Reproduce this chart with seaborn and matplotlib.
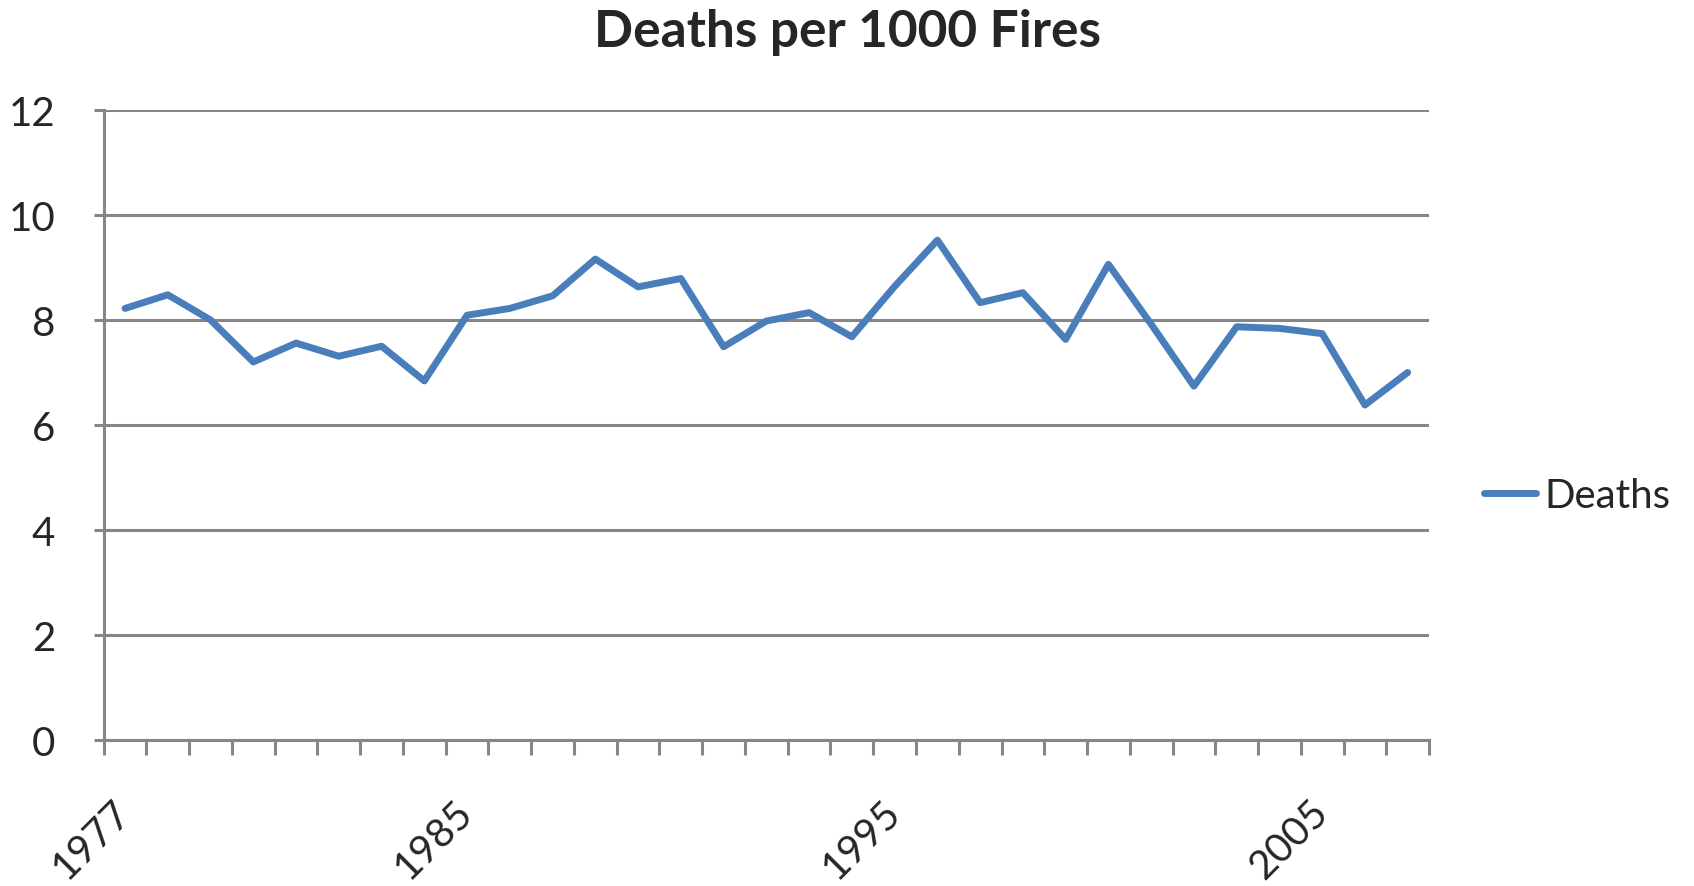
import numpy as np
import pandas as pd
import matplotlib
matplotlib.use("Agg")
import matplotlib.pyplot as plt
import matplotlib.transforms as mtransforms
import seaborn as sns

years = list(range(1977, 2008))
deaths = [8.22, 8.48, 8.00, 7.20, 7.56, 7.31, 7.50, 6.84, 8.09, 8.22,
          8.46, 9.16, 8.63, 8.79, 7.49, 7.98, 8.14, 7.68, 8.64, 9.52,
          8.33, 8.52, 7.63, 9.06, 7.92, 6.74, 7.87, 7.84, 7.74, 6.38,
          7.00]
label_years = [1977, 1985, 1995, 2005]
y_ticks = [0, 2, 4, 6, 8, 10, 12]

df = pd.DataFrame({"Year": years, "Deaths": deaths})

sns.set_style("white")
plt.rcParams['font.family'] = ['Lato', 'DejaVu Sans']

grey = "#868686"
fig = plt.figure(figsize=(16.94, 8.87), dpi=100)
ax = fig.add_axes([0.0612, 0.1646, 0.7824, 0.7103])

sns.lineplot(data=df, x="Year", y="Deaths", ax=ax, color="#4a7ebb",
             linewidth=5, label="Deaths")

ax.set_xlim(years[0] - 0.5, years[-1] + 0.5)
ax.set_ylim(0, 12)
ax.set_yticks(y_ticks)
ax.set_yticklabels([str(v) for v in y_ticks], fontsize=29)
ax.yaxis.grid(True, color=grey, linewidth=2.2)
ax.set_axisbelow(True)

ax.set_xticks(label_years)
ax.set_xticklabels([str(y) for y in label_years], fontsize=29, rotation=45,
                   ha="right", va="top")
ax.set_xticks(np.arange(years[0] - 0.5, years[-1] + 1), minor=True)
ax.tick_params(axis="x", which="major", length=0, pad=38)
ax.tick_params(axis="x", which="minor", length=11, width=2.2, color=grey,
               direction="out")
ax.tick_params(axis="y", length=7, width=2.2, color=grey, direction="out",
               pad=28)
ax.tick_params(bottom=True, left=True, which="both")

# nudge rotated year labels to the right, like the reference
shift = mtransforms.ScaledTranslation(13 / 100, 0, fig.dpi_scale_trans)
for lbl in ax.get_xticklabels():
    lbl.set_transform(lbl.get_transform() + shift)

for s in ["top", "right"]:
    ax.spines[s].set_visible(False)
for s in ["left", "bottom"]:
    ax.spines[s].set_color(grey)
    ax.spines[s].set_linewidth(2.2)

ax.set_xlabel("")
ax.set_ylabel("")

fig.suptitle("Deaths per 1000 Fires", x=0.5, y=1 - 32 / 887, va="center",
             fontsize=37, fontweight="bold")

ax.legend(loc="center left", bbox_to_anchor=(0.876, 0.44),
          bbox_transform=fig.transFigure, frameon=False, fontsize=29,
          handlelength=1.3, handletextpad=0.2, borderpad=0, borderaxespad=0)

fig.savefig("out.png", dpi=100)
